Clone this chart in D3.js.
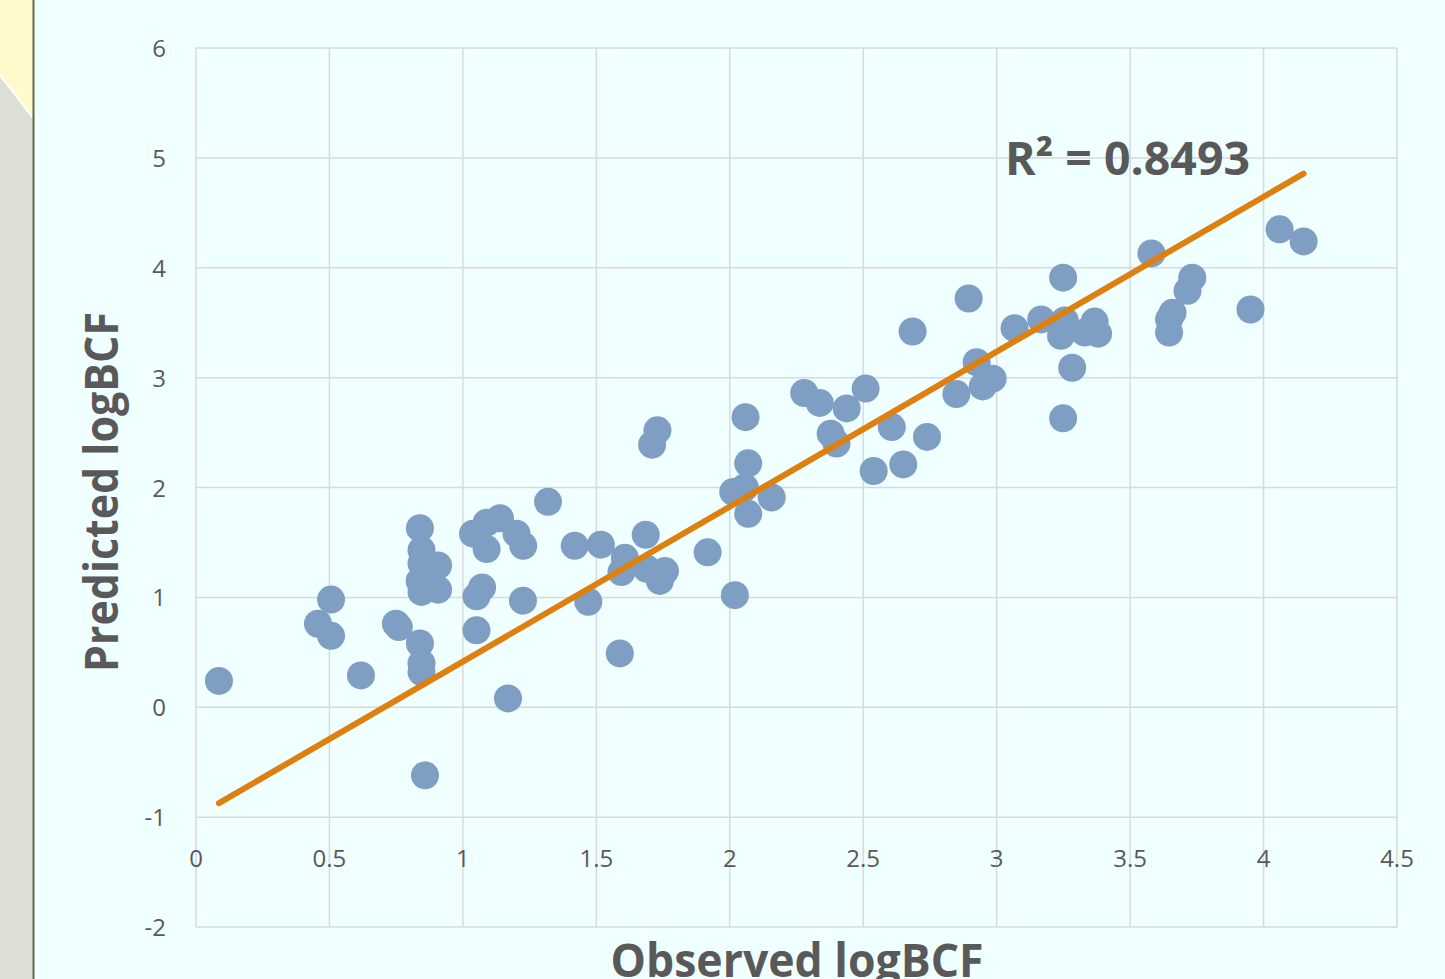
<!DOCTYPE html>
<html>
<head>
<meta charset="utf-8">
<script src="https://cdn.jsdelivr.net/npm/d3@7"></script>
<style>
  body { margin: 0; background: #F0FFFF; }
  svg { display: block; }
</style>
</head>
<body>
<svg id="chart" width="1445" height="979"></svg>
<script>
// Observed vs predicted logBCF
var observed = [
	0.086, 0.457, 0.506, 0.506, 0.618, 0.749, 0.760, 0.839, 0.845, 0.845,
	0.907, 0.838, 0.845, 0.907, 0.839, 0.845, 0.845, 0.858, 1.038, 1.089,
	1.139, 1.089, 1.201, 1.226, 1.319, 1.419, 1.517, 1.051, 1.072, 1.225,
	1.051, 1.169, 1.470, 1.588, 1.607, 1.594, 1.689, 1.685, 1.738, 1.757,
	1.709, 1.729, 1.917, 2.019, 2.013, 2.056, 2.069, 2.157, 2.059, 2.069,
	2.279, 2.337, 2.438, 2.509, 2.378, 2.400, 2.607, 2.539, 2.650, 2.739,
	2.849, 2.685, 2.895, 2.925, 2.948, 2.985, 3.067, 3.167, 3.241, 3.255,
	3.367, 3.380, 3.330, 3.283, 3.249, 3.249, 3.580, 3.733, 3.715, 3.659,
	3.646, 3.646, 3.951, 4.060, 4.150
];
var predicted = [
	0.24, 0.76, 0.98, 0.65, 0.29, 0.76, 0.73, 1.63, 1.43, 1.31,
	1.29, 1.15, 1.05, 1.07, 0.58, 0.40, 0.32, -0.62, 1.58, 1.68,
	1.72, 1.44, 1.58, 1.47, 1.87, 1.47, 1.48, 1.01, 1.09, 0.97,
	0.70, 0.08, 0.96, 0.49, 1.36, 1.23, 1.26, 1.57, 1.15, 1.24,
	2.39, 2.52, 1.41, 1.02, 1.96, 2.00, 1.76, 1.91, 2.64, 2.22,
	2.86, 2.77, 2.72, 2.90, 2.49, 2.40, 2.55, 2.15, 2.21, 2.46,
	2.85, 3.42, 3.72, 3.14, 2.92, 2.99, 3.45, 3.53, 3.38, 3.52,
	3.51, 3.40, 3.41, 3.09, 2.63, 3.91, 4.13, 3.91, 3.79, 3.59,
	3.53, 3.41, 3.62, 4.35, 4.24
];
var xTicks = [0, 0.5, 1, 1.5, 2, 2.5, 3, 3.5, 4, 4.5];
var yTicks = [-2, -1, 0, 1, 2, 3, 4, 5, 6];
// Trendline as drawn in the picture (y = slope * x + intercept)
var trendSlope = 1.41;
var trendIntercept = -0.994;
var r2Label = "R\u00B2 = 0.8493";

var svg = d3.select("#chart");

// Side decoration on the left (slide background)
svg.append("polygon")
	.attr("points", "0,0 33,0 33,118 0,75")
	.attr("fill", "#FFFACC");
svg.append("polygon")
	.attr("points", "0,75 33,118 33,979 0,979")
	.attr("fill", "#DCE0D4");
svg.append("line")
	.attr("x1", 0).attr("y1", 75).attr("x2", 33).attr("y2", 118)
	.attr("stroke", "white").attr("stroke-width", 2);
svg.append("line")
	.attr("x1", 33.5).attr("y1", 0).attr("x2", 33.5).attr("y2", 979)
	.attr("stroke", "#5E6A48").attr("stroke-width", 2);

var x = d3.scaleLinear().domain([0, 4.5]).range([196, 1397]);
var y = d3.scaleLinear().domain([-2, 6]).range([927, 48]);

var grid = svg.append("g");
grid.selectAll("line.v")
	.data(xTicks)
	.enter().append("line")
	.attr("x1", function(d) { return x(d); })
	.attr("x2", function(d) { return x(d); })
	.attr("y1", y(6)).attr("y2", y(-2))
	.attr("stroke", "#D9D9D9").attr("stroke-width", 1.5);
grid.selectAll("line.h")
	.data(yTicks)
	.enter().append("line")
	.attr("y1", function(d) { return y(d); })
	.attr("y2", function(d) { return y(d); })
	.attr("x1", x(0)).attr("x2", x(4.5))
	.attr("stroke", "#D9D9D9").attr("stroke-width", 1.5);

var fontFamily = "'Open Sans', 'Noto Sans', sans-serif";

// Tick labels
svg.selectAll("text.xt")
	.data(xTicks)
	.enter().append("text")
	.attr("x", function(d) { return x(d); })
	.attr("y", y(-1) + 50)
	.attr("text-anchor", "middle")
	.style("font-family", fontFamily)
	.style("font-size", "24px")
	.attr("fill", "#595959")
	.text(function(d) { return d; });
svg.selectAll("text.yt")
	.data(yTicks)
	.enter().append("text")
	.attr("x", 166)
	.attr("y", function(d) { return y(d) + 9; })
	.attr("text-anchor", "end")
	.style("font-family", fontFamily)
	.style("font-size", "24px")
	.attr("fill", "#595959")
	.text(function(d) { return d; });

// Points
var pts = observed.map(function(o, i) { return { x: o, y: predicted[i] }; });
svg.selectAll("circle.pt")
	.data(pts)
	.enter().append("circle")
	.attr("cx", function(d) { return x(d.x); })
	.attr("cy", function(d) { return y(d.y); })
	.attr("r", 14)
	.attr("fill", "#7F9EC3");

// Linear trendline over the range of the observed values
var xr = d3.extent(observed);
svg.append("line")
	.attr("x1", x(xr[0])).attr("y1", y(trendIntercept + trendSlope * xr[0]))
	.attr("x2", x(xr[1])).attr("y2", y(trendIntercept + trendSlope * xr[1]))
	.attr("stroke", "#DF7F0E").attr("stroke-width", 6)
	.attr("stroke-linecap", "round");

svg.append("text")
	.attr("x", 1005).attr("y", 175)
	.attr("textLength", 245).attr("lengthAdjust", "spacingAndGlyphs")
	.style("font-family", fontFamily)
	.style("font-size", "46px").style("font-weight", "bold")
	.attr("fill", "#595959")
	.text(r2Label);

// Axis titles
svg.append("text")
	.attr("x", 797).attr("y", 977)
	.attr("text-anchor", "middle")
	.attr("textLength", 373).attr("lengthAdjust", "spacingAndGlyphs")
	.style("font-family", fontFamily)
	.style("font-size", "46px").style("font-weight", "bold")
	.attr("fill", "#595959")
	.text("Observed logBCF");
svg.append("text")
	.attr("transform", "translate(118,492) rotate(-90)")
	.attr("text-anchor", "middle")
	.attr("textLength", 360).attr("lengthAdjust", "spacingAndGlyphs")
	.style("font-family", fontFamily)
	.style("font-size", "46px").style("font-weight", "bold")
	.attr("fill", "#595959")
	.text("Predicted logBCF");
</script>
</body>
</html>
